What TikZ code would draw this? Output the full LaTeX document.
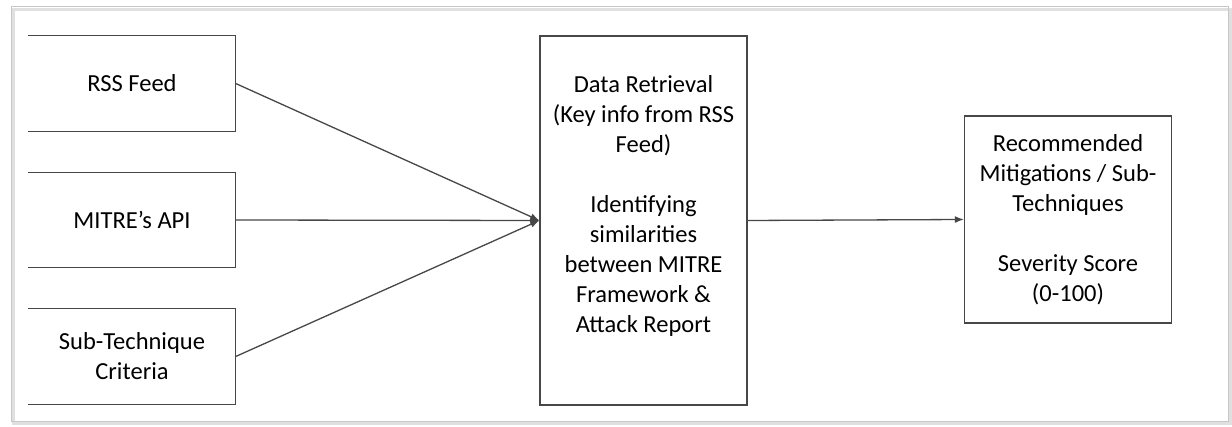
\documentclass[tikz,border=0pt]{standalone}
\usepackage{fontspec}
\setmainfont{Carlito}
\usetikzlibrary{arrows.meta}

\tikzset{%
  every node/.style={
    inner sep=1pt,
    align=center,
    font=\fontsize{24.5}{30}\selectfont
  },
  box/.style={
    minimum width=207pt
  },
  edge/.style={
    draw=black!72, line width=1.3pt
  },
  tip/.style={
    -{Latex[length=9pt,width=7pt]}
  }
}

\begin{document}
\begin{tikzpicture}[x=1pt,y=-1pt]
      \useasboundingbox (0,0) rectangle (1232,427);
      \draw[black!12, line width=3pt] (13,10) rectangle (1230,424);
      \draw[black!22, line width=1pt] (11,7) rectangle (1228,422);
      \node[box, minimum height=95pt] at (132,83.5) (rss) {RSS Feed};
      \node[box, minimum height=95pt] at (132,220) (api) {MITRE’s API};
      \node[box, minimum height=95pt] at (132,356.5) (sub) {Sub-Technique\\Criteria};
      \node[box, minimum height=369pt, edge] at (643.5,220.5) (ret) {};
      \node at (643.5,206) (rettext) {Data Retrieval\\(Key info from RSS\\Feed)\\[30pt]Identifying\\similarities\\between MITRE\\Framework \&\\Attack Report};
      \node[box, minimum height=207pt, edge] at (1068,219.5) (rec) {Recommended\\Mitigations / Sub-\\Techniques\\[30pt]Severity Score\\(0-100)};
      \draw[edge] (rss.north west) -- (rss.north east) -- (rss.south east) -- (rss.south west);
      \draw[edge] (api.north west) -- (api.north east) -- (api.south east) -- (api.south west);
      \draw[edge] (sub.north west) -- (sub.north east) -- (sub.south east) -- (sub.south west);
      \draw[edge, tip] (rss.east) -- (ret.west);
      \draw[edge, tip] (api.east) -- (ret.west);
      \draw[edge, tip] (sub.east) -- (ret.west);
      \draw[edge, tip] (ret.east) -- (rec.west);
    \end{tikzpicture}
\end{document}
